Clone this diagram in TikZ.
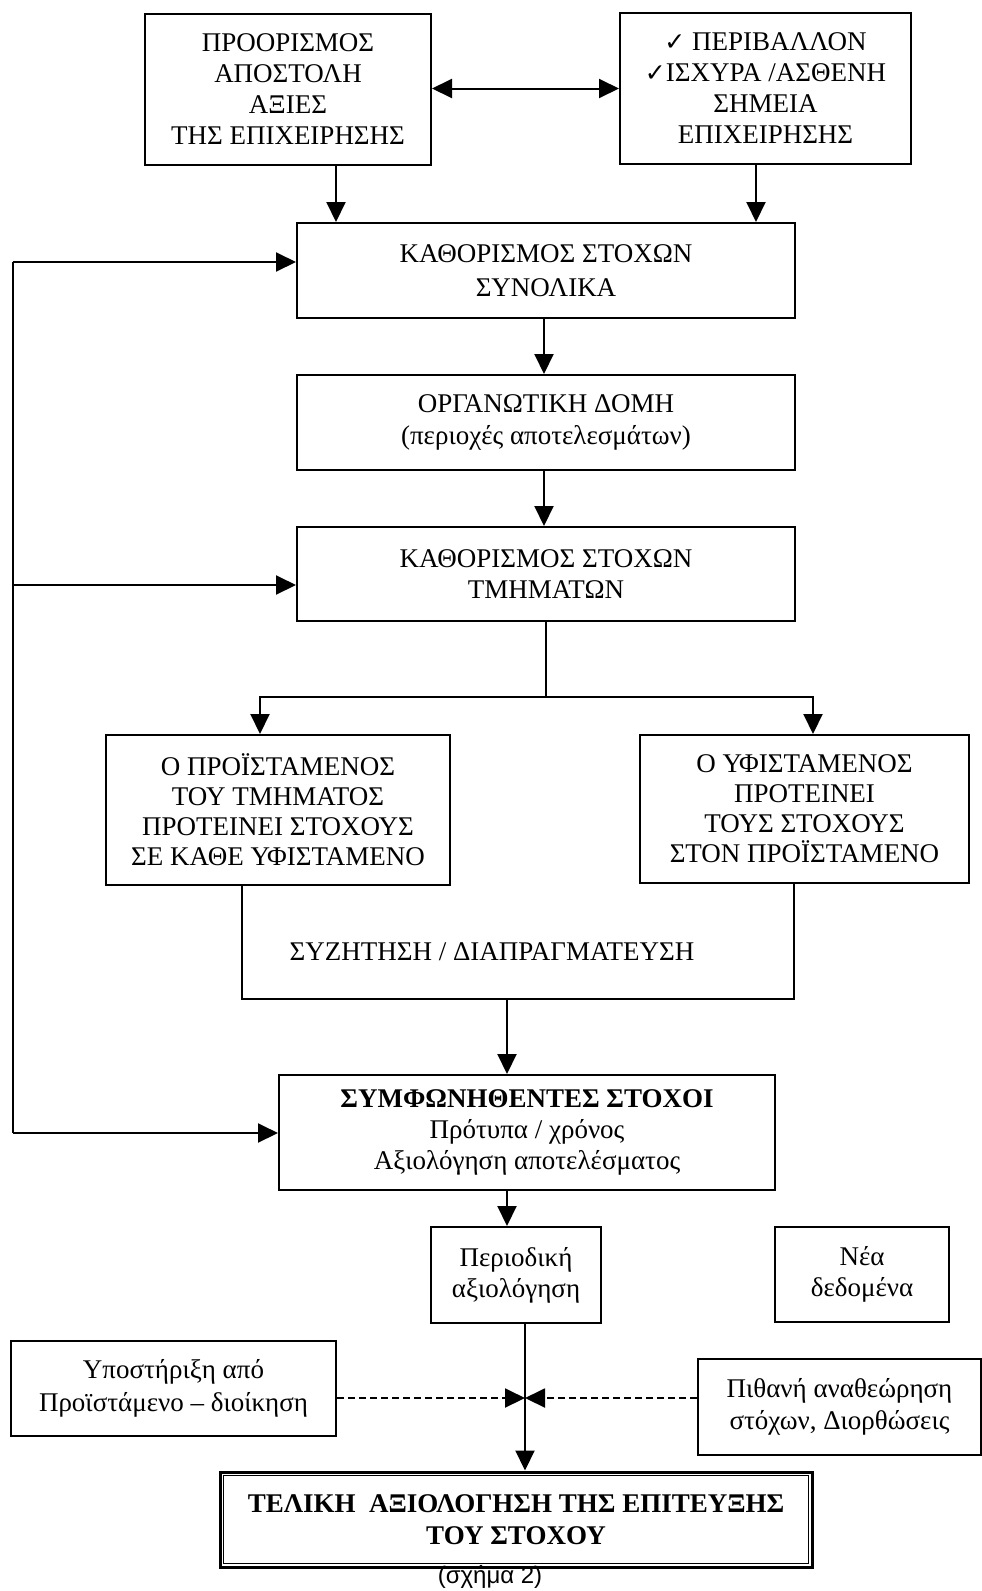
\documentclass[tikz,border=0pt]{standalone}
\usepackage{fontspec}
\setmainfont{Liberation Serif}
\newfontfamily\capfont{Liberation Sans}
\newfontfamily\symfont{DejaVu Sans}
\usetikzlibrary{arrows.meta}
\begin{document}
\begin{tikzpicture}[x=1pt,y=-1pt,
  >={Triangle[length=20pt,width=19pt]},
  box/.style={draw, line width=2pt, rectangle, inner sep=0pt, align=center,
              font=\fontsize{27}{31}\selectfont},
  arr/.style={line width=2pt, ->},
  dbl/.style={line width=2pt, <->},
  plain/.style={line width=2pt},
  dasharr/.style={line width=2pt, dash pattern=on 7pt off 4pt, ->},
  lbl/.style={font=\fontsize{27}{31}\selectfont}
]
\useasboundingbox (0,0) rectangle (982,1591);
\clip (0,0) rectangle (982,1591);
\fill[white] (0,0) rectangle (982,1591);

% boxes
\node[box, minimum width=286pt, minimum height=151pt] (A) at (288,89)
  {ΠΡΟΟΡΙΣΜΟΣ\\ΑΠΟΣΤΟΛΗ\\ΑΞΙΕΣ\\ΤΗΣ ΕΠΙΧΕΙΡΗΣΗΣ};
\node[box, minimum width=291pt, minimum height=151pt] (B) at (765.5,88.5)
  {{\symfont\fontsize{25}{31}\selectfont ✓} ΠΕΡΙΒΑΛΛΟΝ\\{\symfont\fontsize{25}{31}\selectfont ✓}ΙΣΧΥΡΑ /ΑΣΘΕΝΗ\\ΣΗΜΕΙΑ\\ΕΠΙΧΕΙΡΗΣΗΣ};
\node[box, minimum width=498pt, minimum height=95pt, font=\fontsize{27}{34}\selectfont] (C) at (546,270.5)
  {ΚΑΘΟΡΙΣΜΟΣ ΣΤΟΧΩΝ\\ΣΥΝΟΛΙΚΑ};
\node[box, minimum width=498pt, minimum height=95pt, font=\fontsize{27}{32}\selectfont] (D) at (546,422.5)
  {ΟΡΓΑΝΩΤΙΚΗ ΔΟΜΗ\\(περιοχές αποτελεσμάτων)};
\node[box, minimum width=498pt, minimum height=94pt] (E) at (546,574)
  {ΚΑΘΟΡΙΣΜΟΣ ΣΤΟΧΩΝ\\ΤΜΗΜΑΤΩΝ};
\node[box, minimum width=344pt, minimum height=150pt, font=\fontsize{27}{30}\selectfont] (F) at (278,810)
  {Ο ΠΡΟΪΣΤΑΜΕΝΟΣ\\ΤΟΥ ΤΜΗΜΑΤΟΣ\\ΠΡΟΤΕΙΝΕΙ ΣΤΟΧΟΥΣ\\ΣΕ ΚΑΘΕ ΥΦΙΣΤΑΜΕΝΟ};
\node[box, minimum width=329pt, minimum height=148pt, font=\fontsize{27}{30}\selectfont] (G) at (804.5,809)
  {Ο ΥΦΙΣΤΑΜΕΝΟΣ\\ΠΡΟΤΕΙΝΕΙ\\ΤΟΥΣ ΣΤΟΧΟΥΣ\\ΣΤΟΝ ΠΡΟΪΣΤΑΜΕΝΟ};
\node[box, minimum width=496pt, minimum height=115pt] (H) at (527,1132.5)
  {\textbf{ΣΥΜΦΩΝΗΘΕΝΤΕΣ ΣΤΟΧΟΙ}\\Πρότυπα / χρόνος\\Αξιολόγηση αποτελέσματος};
\node[box, minimum width=170pt, minimum height=96pt] (I) at (516,1275)
  {Περιοδική\\αξιολόγηση};
\node[box, minimum width=174pt, minimum height=95pt] (J) at (862,1274.5)
  {Νέα\\δεδομένα};
\node[box, minimum width=325pt, minimum height=95pt, font=\fontsize{27}{33}\selectfont] (K) at (173.5,1388.5)
  {Υποστήριξη από\\Προϊστάμενο – διοίκηση};
\node[box, minimum width=283pt, minimum height=96pt, font=\fontsize{27}{32}\selectfont] (L) at (839.5,1407)
  {Πιθανή αναθεώρηση\\στόχων, Διορθώσεις};
\node[box, line width=3pt, minimum width=592pt, minimum height=95pt, font=\fontsize{27}{32}\selectfont\bfseries] (M) at (516,1519.5)
  {ΤΕΛΙΚΗ~~ΑΞΙΟΛΟΓΗΣΗ ΤΗΣ ΕΠΙΤΕΥΞΗΣ\\ΤΟΥ ΣΤΟΧΟΥ};
\draw[line width=1.5pt] ([shift={(5pt,-5pt)}]M.north west) rectangle ([shift={(-5pt,5pt)}]M.south east);

\node[lbl] (disc) at (492,952) {ΣΥΖΗΤΗΣΗ / ΔΙΑΠΡΑΓΜΑΤΕΥΣΗ};
\node[font=\capfont\fontsize{24}{28}\selectfont, anchor=base, inner sep=0pt] (cap) at (490,1583) {(σχήμα 2)};

% coordinates
\coordinate (split) at (546,697);
\coordinate (join) at (507,999);
\coordinate (meet) at (525,1398);
\coordinate (fbC) at (12.5,262);
\coordinate (fbE) at (12.5,585);
\coordinate (fbH) at (12.5,1133);

% connectors
\draw[dbl] (A.east |- B.west) -- (B.west);
\draw[arr] ([xshift=48pt]A.south) -- ([xshift=48pt]A.south |- C.north);
\draw[arr] ([xshift=-9.5pt]B.south) -- ([xshift=-9.5pt]B.south |- C.north);
\draw[arr] ([xshift=-2pt]C.south) -- ([xshift=-2pt]D.north);
\draw[arr] ([xshift=-2pt]D.south) -- ([xshift=-2pt]E.north);
\draw[plain] (E.south) -- (split);
\draw[arr] (split) -| ([xshift=-18pt]F.north);
\draw[arr] (split) -| ([xshift=8.5pt]G.north);
\draw[plain] ([xshift=-36pt]F.south) |- (join) -| ([xshift=-10.5pt]G.south);
\draw[arr] (join) -- (join |- H.north);
\draw[plain] (fbC) -- (fbH);
\draw[arr] (fbC) -- (fbC -| C.west);
\draw[arr] (fbE) -- (fbE -| E.west);
\draw[arr] (fbH) -- (fbH -| H.west);
\draw[arr] ([xshift=-20pt]H.south) -- ([xshift=-9pt]I.north);
\draw[arr] ([xshift=9pt]I.south) -- ([xshift=9pt]M.north);
\draw[dasharr] (K.east |- meet) -- (meet);
\draw[dasharr] (L.west |- meet) -- (meet);
\end{tikzpicture}
\end{document}
